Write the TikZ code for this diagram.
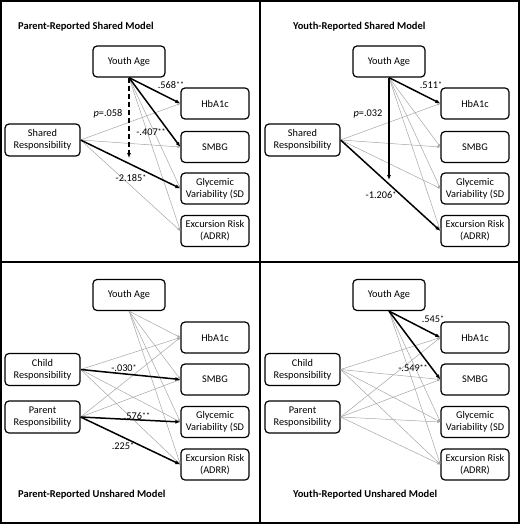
\documentclass[tikz,border=0pt]{standalone}
\usepackage{fontspec}
\setmainfont{Carlito}
\usetikzlibrary{arrows.meta}
\newcommand{\sg}[1]{\raisebox{1.5pt}{\fontsize{8}{8}\selectfont #1}}
\begin{document}
\begin{tikzpicture}[x=1pt,y=-1pt,
  basebox/.style={draw, line width=1.2pt, rounded corners=4pt, align=center, inner sep=1pt, font=\fontsize{10.3}{12.2}\selectfont},
  agebox/.style={basebox, minimum width=72pt, minimum height=31pt},
  outbox/.style={basebox, minimum width=68pt, minimum height=31pt},
  inbox/.style={basebox, minimum width=75pt, minimum height=32pt},
  thinarr/.style={draw=black!35, line width=0.5pt, -{Latex[length=3pt,width=2.4pt]}},
  boldarr/.style={draw=black, line width=1.5pt, -{Latex[length=5pt,width=4pt]}},
  lab/.style={font=\fontsize{10.3}{11}\selectfont, inner sep=0pt},
  ttl/.style={font=\fontsize{10.5}{12}\selectfont\bfseries, inner sep=0pt, anchor=west}
]
\useasboundingbox (0,0) rectangle (520,524);
\draw[line width=2pt] (1,1) rectangle (519,523);
\draw[line width=2pt] (260,1) -- (260,523);
\draw[line width=2pt] (1,262) -- (519,262);

% ---------- Top-left: Parent-Reported Shared Model
\node[ttl] (tlT) at (18,27) {Parent-Reported Shared Model};
\node[agebox] (tlYA) at (129,61.5) {Youth Age};
\node[outbox] (tlH) at (215,103.5) {HbA1c};
\node[outbox] (tlS) at (215,147) {SMBG};
\node[outbox] (tlG) at (215,188.5) {Glycemic\\Variability (SD};
\node[outbox] (tlE) at (215,231) {Excursion Risk\\(ADRR)};
\node[inbox] (tlSR) at (42.5,140) {Shared\\Responsibility};
\coordinate (tlD) at (129,158);
\draw[thinarr] (tlYA.south) -- (tlG.west);
\draw[thinarr] (tlYA.south) -- (tlE.west);
\draw[thinarr] (tlSR.east) -- (tlH.west);
\draw[thinarr] (tlSR.east) -- (tlS.west);
\draw[thinarr] (tlSR.east) -- (tlE.west);
\draw[boldarr] (tlYA.south) -- (tlH.west);
\draw[boldarr] (tlYA.south) -- (tlS.west);
\draw[boldarr] (tlSR.east) -- (tlG.west);
\draw[boldarr, dash pattern=on 5pt off 3pt] (tlYA.south) -- (tlD);
\node[lab] (tlL1) at (108,114) {\textit{p}=.058};
\node[lab] (tlL2) at (171,85) {.568\sg{**}};
\node[lab] (tlL3) at (151,132) {-.407\sg{**}};
\node[lab] (tlL4) at (131,178) {-2.185\sg{*}};

% ---------- Top-right: Youth-Reported Shared Model
\node[ttl] (trT) at (293,27) {Youth-Reported Shared Model};
\node[agebox] (trYA) at (389,61.5) {Youth Age};
\node[outbox] (trH) at (475,103.5) {HbA1c};
\node[outbox] (trS) at (475,147) {SMBG};
\node[outbox] (trG) at (475,188.5) {Glycemic\\Variability (SD};
\node[outbox] (trE) at (475,231) {Excursion Risk\\(ADRR)};
\node[inbox] (trSR) at (302.5,140) {Shared\\Responsibility};
\coordinate (trD) at (389,180);
\draw[thinarr] (trYA.south) -- (trS.west);
\draw[thinarr] (trYA.south) -- (trG.west);
\draw[thinarr] (trYA.south) -- (trE.west);
\draw[thinarr] (trSR.east) -- (trH.west);
\draw[thinarr] (trSR.east) -- (trS.west);
\draw[thinarr] (trSR.east) -- (trG.west);
\draw[boldarr] (trYA.south) -- (trH.west);
\draw[boldarr] (trSR.east) -- (trE.west);
\draw[boldarr] (trYA.south) -- (trD);
\node[lab] (trL1) at (368,114) {\textit{p}=.032};
\node[lab] (trL2) at (431,85) {.511\sg{*}};
\node[lab] (trL3) at (381,195) {-1.206\sg{*}};

% ---------- Bottom-left: Parent-Reported Unshared Model
\node[ttl] (blT) at (18,495) {Parent-Reported Unshared Model};
\node[agebox] (blYA) at (129,295) {Youth Age};
\node[outbox] (blH) at (215,337.5) {HbA1c};
\node[outbox] (blS) at (215,379.5) {SMBG};
\node[outbox] (blG) at (215,422) {Glycemic\\Variability (SD};
\node[outbox] (blE) at (215,464.5) {Excursion Risk\\(ADRR)};
\node[inbox] (blC) at (42.5,369.5) {Child\\Responsibility};
\node[inbox] (blP) at (42.5,417) {Parent\\Responsibility};
\foreach \t in {H,S,G,E} {\draw[thinarr] (blYA.south) -- (bl\t.west);}
\foreach \t in {H,G,E} {\draw[thinarr] (blC.east) -- (bl\t.west);}
\foreach \t in {H,S} {\draw[thinarr] (blP.east) -- (bl\t.west);}
\draw[boldarr] (blC.east) -- (blS.west);
\draw[boldarr] (blP.east) -- (blG.west);
\draw[boldarr] (blP.east) -- (blE.west);
\node[lab] (blL1) at (124,368) {-.030\sg{*}};
\node[lab] (blL2) at (137,416) {.576\sg{**}};
\node[lab] (blL3) at (123,446) {.225\sg{*}};

% ---------- Bottom-right: Youth-Reported Unshared Model
\node[ttl] (brT) at (293,495) {Youth-Reported Unshared Model};
\node[agebox] (brYA) at (389,295) {Youth Age};
\node[outbox] (brH) at (475,337.5) {HbA1c};
\node[outbox] (brS) at (475,379.5) {SMBG};
\node[outbox] (brG) at (475,422) {Glycemic\\Variability (SD};
\node[outbox] (brE) at (475,464.5) {Excursion Risk\\(ADRR)};
\node[inbox] (brC) at (302.5,369.5) {Child\\Responsibility};
\node[inbox] (brP) at (302.5,417) {Parent\\Responsibility};
\foreach \t in {G,E} {\draw[thinarr] (brYA.south) -- (br\t.west);}
\foreach \t in {H,S,G,E} {\draw[thinarr] (brC.east) -- (br\t.west);}
\foreach \t in {H,S,G,E} {\draw[thinarr] (brP.east) -- (br\t.west);}
\draw[boldarr] (brYA.south) -- (brH.west);
\draw[boldarr] (brYA.south) -- (brS.west);
\node[lab] (brL1) at (433,319) {.545\sg{*}};
\node[lab] (brL2) at (413,368) {-.549\sg{**}};
\end{tikzpicture}
\end{document}
